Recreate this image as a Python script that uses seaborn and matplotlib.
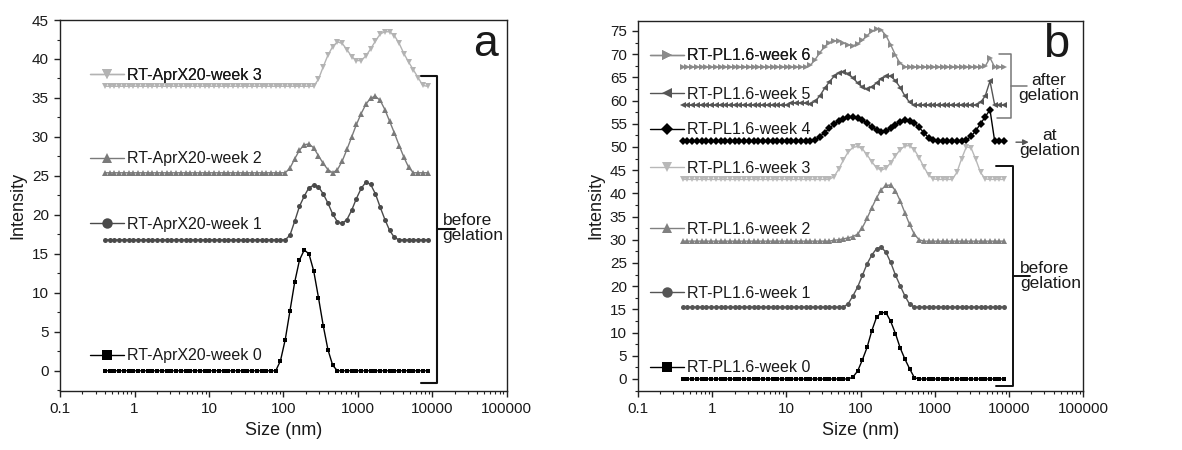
import matplotlib
matplotlib.use("Agg")
import matplotlib.pyplot as plt
from matplotlib.lines import Line2D
from matplotlib.ticker import LogLocator, FixedLocator, MultipleLocator, NullFormatter
import seaborn as sns

# ---------------- data ----------------
size_nm = [0.4, 0.4632, 0.5365, 0.6213, 0.7195, 0.8332, 0.9649, 1.117, 1.294, 1.499,
           1.736, 2.01, 2.328, 2.696, 3.122, 3.615, 4.187, 4.849, 5.615, 6.503,
           7.531, 8.721, 10.1, 11.7, 13.54, 15.69, 18.17, 21.04, 24.36, 28.21,
           32.67, 37.84, 43.82, 50.75, 58.77, 68.06, 78.82, 91.28, 105.7, 122.4,
           141.8, 164.2, 190.1, 220.2, 255.0, 295.3, 342.0, 396.1, 458.7, 531.2,
           615.1, 712.4, 825.0, 955.4, 1106, 1281, 1484, 1718, 1990, 2305,
           2669, 3091, 3580, 4145, 4801, 5560, 6439, 7456, 8635]


def full(base, start, vals):
    out = [base] * start + list(vals)
    out += [base] * (len(size_nm) - len(out))
    return out


# panel a (offset curves, as plotted)
a_labels = ["RT-AprX20-week 0", "RT-AprX20-week 1", "RT-AprX20-week 2", "RT-AprX20-week 3"]
a_week0 = full(0.0, 37, [1.3, 4.0, 7.7, 11.4, 14.2, 15.5, 15.0, 12.8, 9.4, 5.8, 2.7, 0.7])
a_week1 = full(16.8, 39, [17.4, 19.2, 21.1, 22.4, 23.5, 23.8, 23.6, 22.7, 21.5, 20.1, 19.1, 18.9,
                          19.4, 20.6, 22.1, 23.4, 24.2, 23.9, 22.7, 21.0, 19.4, 18.0, 17.1])
a_week2 = full(25.4, 39, [26.0, 27.2, 28.3, 29.0, 29.1, 28.6, 27.6, 26.6, 25.8, 25.4, 25.8, 26.9,
                          28.4, 30.0, 31.6, 33.0, 34.2, 35.0, 35.2, 34.7, 33.5, 32.0, 30.5, 28.9,
                          27.4, 26.1])
a_week3 = full(36.5, 45, [37.4, 39.0, 40.5, 41.6, 42.2, 42.0, 41.2, 40.3, 39.8, 39.8, 40.4, 41.3,
                          42.3, 43.2, 43.5, 43.5, 43.0, 42.0, 40.7, 39.6, 38.6, 37.6, 36.6, 36.5])

# panel b
b_labels = ["RT-PL1.6-week 0", "RT-PL1.6-week 1", "RT-PL1.6-week 2", "RT-PL1.6-week 3",
            "RT-PL1.6-week 4", "RT-PL1.6-week 5", "RT-PL1.6-week 6"]
b_week0 = full(0.0, 36, [0.4, 1.7, 4.1, 6.8, 10.4, 13.3, 14.3, 14.3, 12.4, 9.8, 6.7, 4.3, 2.2, 0.3])
b_week1 = full(15.5, 35, [16.2, 17.9, 19.8, 22.3, 24.8, 26.7, 28.1, 28.4, 27.3, 25.1, 22.4, 20.1,
                          17.9, 16.1])
b_week2 = full(29.7, 32, [29.9, 30.0, 30.2, 30.4, 30.7, 31.2, 32.6, 34.6, 36.9, 39.0, 40.8, 41.7,
                          41.8, 40.6, 38.4, 35.8, 33.3, 31.2, 30.0])
b_week3 = full(43.0, 32, [43.6, 45.2, 47.2, 48.9, 49.9, 50.1, 49.6, 48.3, 46.8, 45.5, 45.0, 45.4,
                          46.6, 48.1, 49.4, 50.2, 50.3, 49.4, 47.7, 45.7, 44.0, 43.1, 43.0, 43.0,
                          43.0, 43.0, 44.5, 47.5, 50.0, 49.8, 47.3, 44.5, 43.1])
b_week4 = full(51.2, 28, [51.5, 52.2, 53.1, 54.0, 54.9, 55.6, 56.1, 56.4, 56.5, 56.3, 55.8, 55.1,
                          54.3, 53.6, 53.3, 53.5, 54.1, 54.8, 55.4, 55.7, 55.6, 55.1, 54.2, 53.1,
                          52.0, 51.4, 51.2, 51.2, 51.2, 51.2, 51.2, 51.2, 51.5, 52.3, 53.5, 55.0,
                          56.5, 58.0])
b_week5 = full(59.0, 23, [59.5, 59.5, 59.5, 59.4, 59.3, 59.8, 61.0, 62.6, 64.0, 65.2, 65.9, 66.2,
                          65.8, 64.9, 63.8, 62.9, 62.5, 62.9, 63.8, 64.7, 65.2, 65.2, 64.3, 62.8,
                          61.0, 59.6] + [59.0] * 14 + [59.6, 61.0, 64.2])
b_week6 = full(67.2, 27, [67.6, 68.8, 70.3, 71.6, 72.5, 72.9, 72.8, 72.4, 72.0, 71.8, 72.2, 73.0,
                          74.0, 74.9, 75.4, 75.2, 74.0, 72.0, 69.8, 68.0, 67.3] + [67.2] * 16
                 + [67.4, 69.2])

x_ticks = [0.1, 1, 10, 100, 1000, 10000, 100000]
x_ticklabels = ["0.1", "1", "10", "100", "1000", "10000", "100000"]

# ---------------- style ----------------
sns.set_style("ticks")
plt.rcParams["font.family"] = ["Liberation Sans", "DejaVu Sans"]
plt.rcParams["axes.linewidth"] = 1.0
plt.rcParams["xtick.major.size"] = 4.5
plt.rcParams["ytick.major.size"] = 4.5
plt.rcParams["xtick.minor.size"] = 2.5
plt.rcParams["ytick.minor.size"] = 2.5
plt.rcParams["xtick.color"] = "#222222"
plt.rcParams["ytick.color"] = "#222222"

fig = plt.figure(figsize=(11.82, 4.5), dpi=100)
axA = fig.add_axes([0.0508, 0.131, 0.378, 0.8245])
axB = fig.add_axes([0.5398, 0.131, 0.3765, 0.823])

TXT = "#1a1a1a"
LEG_MS = {"s": 7.0, "o": 7.5, "^": 7.5, "v": 7.5, "D": 6.0, "<": 7.5, ">": 7.5}


def draw(ax, series, labels, colors, markers, msizes, leg_pos, handle_x):
    for vals, lab, c, m, ms, ly in zip(series, labels, colors, markers, msizes, leg_pos):
        sns.lineplot(x=size_nm, y=vals, ax=ax, color=c, marker=m, markersize=ms,
                     markeredgewidth=0, linewidth=1.0, legend=False, errorbar=None)
        h = Line2D([], [], color=c, marker=m, markersize=LEG_MS[m],
                   markeredgewidth=0, lw=1.0)
        leg = ax.legend(handles=[h], labels=[lab], loc="center left",
                        bbox_to_anchor=(handle_x, ly), frameon=False, fontsize=11.5,
                        handlelength=2.15, handletextpad=0.15, borderpad=0,
                        borderaxespad=0, labelcolor=TXT)
        ax.add_artist(leg)


def style_axis(ax, ylim, ymax_tick):
    ax.set_xscale("log")
    ax.set_xlim(0.1, 100000)
    ax.set_ylim(*ylim)
    ax.xaxis.set_major_locator(FixedLocator(x_ticks))
    ax.set_xticklabels(x_ticklabels)
    ax.xaxis.set_minor_locator(LogLocator(base=10, subs=range(2, 10), numticks=20))
    ax.xaxis.set_minor_formatter(NullFormatter())
    ax.yaxis.set_major_locator(FixedLocator(list(range(0, ymax_tick + 1, 5))))
    ax.yaxis.set_minor_locator(MultipleLocator(2.5))
    ax.tick_params(axis="both", which="major", labelsize=11, width=1.0, labelcolor=TXT)
    ax.tick_params(axis="both", which="minor", width=0.8)
    for s in ax.spines.values():
        s.set_visible(True)
        s.set_color("#222222")
    ax.set_xlabel("Size (nm)", fontsize=13, color=TXT)
    ax.set_ylabel("Intensity", fontsize=13, color=TXT, labelpad=4)


# panel a
draw(axA, [a_week0, a_week1, a_week2, a_week3], a_labels,
     ["#000000", "#4a4a4a", "#7a7a7a", "#b3b3b3"], ["s", "o", "^", "v"],
     [3.4, 3.6, 3.8, 3.8], [0.0945, 0.450, 0.626, 0.851], 0.067)
style_axis(axA, (-2.6, 45), 45)
axA.text(0.952, 0.935, "a", transform=axA.transAxes, fontsize=32, ha="center", va="center",
         color=TXT)
# bracket "before gelation"
tA = axA.transAxes
axA.plot([0.807, 0.844, 0.844, 0.807], [0.849, 0.849, 0.0216, 0.0216], transform=tA,
         color="#111111", lw=1.5, clip_on=False)
axA.plot([0.844, 0.884], [0.437, 0.437], transform=tA, color="#111111", lw=1.5, clip_on=False)
axA.text(0.856, 0.44, "before\ngelation", transform=tA, fontsize=12.5, ha="left", va="center",
         linespacing=1.0, color=TXT)

# panel b
draw(axB, [b_week0, b_week1, b_week2, b_week3, b_week4, b_week5, b_week6], b_labels,
     ["#000000", "#555555", "#808080", "#b8b8b8", "#000000", "#555555", "#8a8a8a"],
     ["s", "o", "^", "v", "D", "<", ">"],
     [3.2, 3.6, 3.8, 3.8, 4.3, 3.8, 3.8],
     [0.063, 0.264, 0.437, 0.601, 0.705, 0.802, 0.905], 0.027)
style_axis(axB, (-2.6, 77.2), 75)
axB.text(0.94, 0.935, "b", transform=axB.transAxes, fontsize=34, ha="center", va="center",
         color=TXT)
tB = axB.transAxes
# after gelation bracket (gray)
axB.plot([0.811, 0.8375, 0.8375, 0.807], [0.910, 0.910, 0.738, 0.738], transform=tB,
         color="#777777", lw=1.1, clip_on=False)
axB.plot([0.8375, 0.873], [0.824, 0.824], transform=tB, color="#777777", lw=1.1)
axB.text(0.922, 0.818, "after\ngelation", transform=tB, fontsize=12.5, ha="center",
         va="center", linespacing=1.0, color=TXT)
# at gelation arrow
axB.annotate("", xy=(0.884, 0.672), xytext=(0.843, 0.672), xycoords=tB, textcoords=tB,
             arrowprops=dict(arrowstyle="-|>", color="#555555", lw=1.0, mutation_scale=8))
axB.text(0.925, 0.670, "at\ngelation", transform=tB, fontsize=12.5, ha="center",
         va="center", linespacing=1.0, color=TXT)
# before gelation bracket (black)
axB.plot([0.8045, 0.842, 0.842, 0.8045], [0.6076, 0.6076, 0.0135, 0.0135], transform=tB,
         color="#111111", lw=1.4, clip_on=False)
axB.plot([0.842, 0.881], [0.311, 0.311], transform=tB, color="#111111", lw=1.4)
axB.text(0.858, 0.311, "before\ngelation", transform=tB, fontsize=12.5, ha="left",
         va="center", linespacing=1.0, color=TXT)

fig.savefig("out.png", dpi=100)
